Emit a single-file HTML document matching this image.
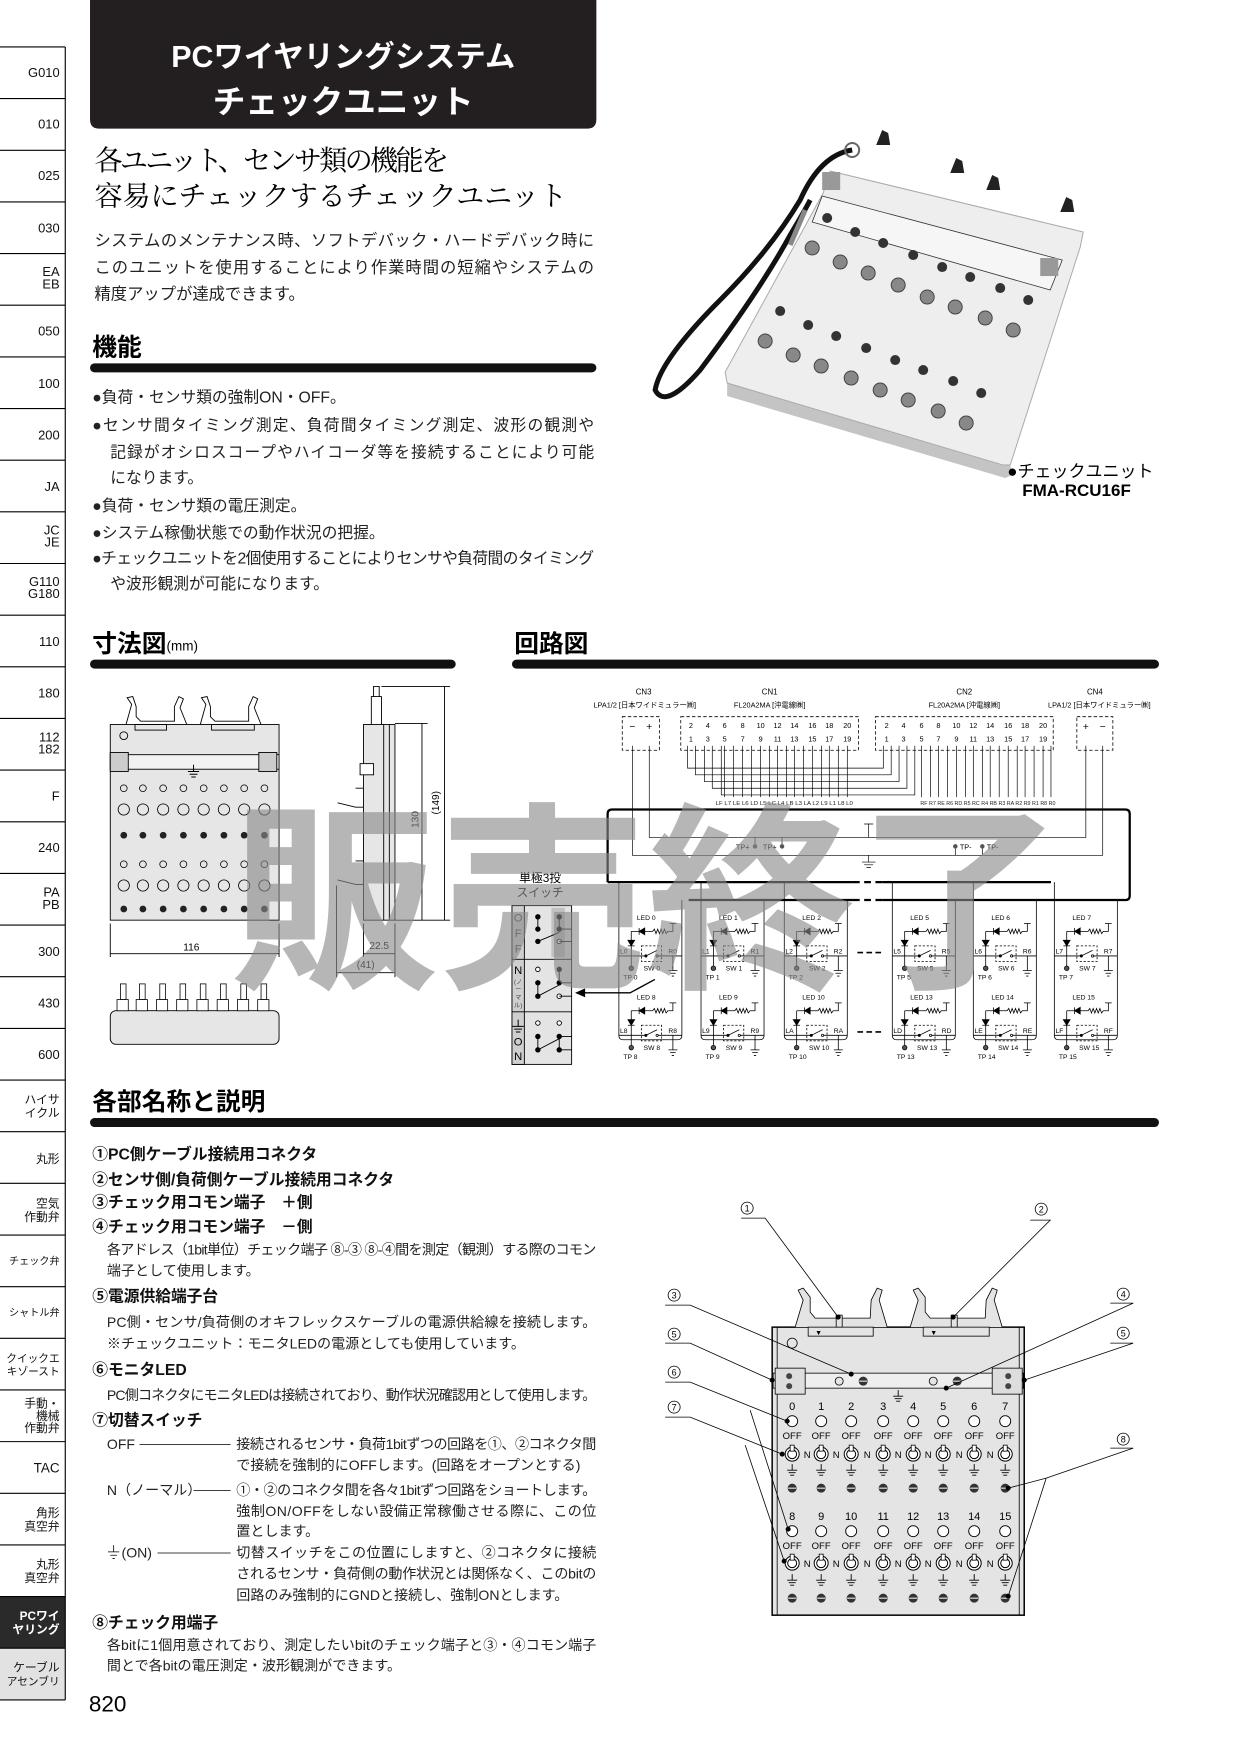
<!DOCTYPE html>
<html><head><meta charset="utf-8"><style>
html,body{margin:0;padding:0;background:#fff;}
svg{display:block;}
text{font-family:"Liberation Sans","Noto Sans CJK JP",sans-serif;}
.s{font-family:"Liberation Serif","Noto Serif CJK SC",serif;}
</style></head><body>
<svg width="1240" height="1752" viewBox="0 0 1102 1567" preserveAspectRatio="none" xmlns="http://www.w3.org/2000/svg">
<defs>
<g id="row" fill="none" stroke="#000" stroke-width="0.7">
<path d="M11 20V53M11 20H18M23 20H30l1.5-2 1.5 4 1.5-4 1.5 4 1.5-4 1.5 4 1.5-4 1.5 4 1.5-2H48V13M45 13H51M0 42H11M38 42H56M11 42H24M35 42H48V55M44 55H52M45.5 57.5H50.5M47 60H49"/>
<path d="M18 20L23 17V23Z M18 17V23" fill="#000"/>
<path d="M8 28H14L11 33Z M8 33H14" fill="#000"/>
<rect x="20" y="33" width="18" height="14" stroke-dasharray="2 1.5"/>
<path d="M24 42L34 37"/>
<circle cx="24" cy="42" r="1" fill="#000"/><circle cx="34" cy="42" r="1"/>
<circle cx="11" cy="53" r="2" fill="#555"/>
</g>
<g id="sw"><circle r="7" fill="#fff" stroke="#000" stroke-width="1"/><circle r="4.5" fill="none" stroke="#000" stroke-width="1"/><rect x="-2" y="-9" width="4" height="6" fill="#fff" stroke="#000" stroke-width="0.8"/></g>
<g id="scr"><circle r="4.5" fill="#333"/><path d="M-4 0H4" stroke="#fff" stroke-width="1"/></g>
<g id="gnd" stroke="#000" stroke-width="0.9"><path d="M0 -6V0M-5 0H5M-3.5 2.5H3.5M-2 5H2"/></g>
<g id="led"><circle r="5.5" fill="#fff" stroke="#000" stroke-width="0.9"/></g>
</defs>

<!-- sidebar -->
<g stroke="#000" stroke-width="1" fill="none">
<rect x="0" y="1428" width="58" height="46.2" fill="#2a2a2a" stroke="none"/>
<rect x="0" y="1474.2" width="58" height="46.2" fill="#e2e2e2" stroke="none"/>
<path d="M58 42V1520.4"/>
<path d="M0 42H58M0 88.2H58M0 134.4H58M0 180.6H58M0 226.8H58M0 273H58M0 319.2H58M0 365.4H58M0 411.6H58M0 457.8H58M0 504H58M0 550.2H58M0 596.4H58M0 642.6H58M0 688.8H58M0 735H58M0 781.2H58M0 827.4H58M0 873.6H58M0 919.8H58M0 966H58M0 1012.2H58M0 1058.4H58M0 1104.6H58M0 1150.8H58M0 1197H58M0 1243.2H58M0 1289.4H58M0 1335.6H58M0 1381.8H58M0 1428H58M0 1474.2H58M0 1520.4H58"/>
</g>
<g font-size="11.5" text-anchor="end" fill="#111">
<text x="53" y="69">G010</text><text x="53" y="115">010</text><text x="53" y="161">025</text><text x="53" y="208">030</text>
<text x="53" y="247">EA</text><text x="53" y="258">EB</text>
<text x="53" y="300">050</text><text x="53" y="347">100</text><text x="53" y="393">200</text><text x="53" y="439">JA</text>
<text x="53" y="478">JC</text><text x="53" y="489">JE</text>
<text x="53" y="524">G110</text><text x="53" y="535">G180</text>
<text x="53" y="578">110</text><text x="53" y="624">180</text>
<text x="53" y="663">112</text><text x="53" y="674">182</text>
<text x="53" y="716">F</text><text x="53" y="762">240</text>
<text x="53" y="802">PA</text><text x="53" y="813">PB</text>
<text x="53" y="855">300</text><text x="53" y="901">430</text><text x="53" y="947">600</text>
<g font-size="10.5"><text x="53" y="987">ハイサ</text><text x="53" y="999">イクル</text>
<text x="53" y="1040">丸形</text>
<text x="53" y="1080">空気</text><text x="53" y="1092">作動弁</text>
<text x="53" y="1131" font-size="9">チェック弁</text>
<text x="53" y="1177" font-size="9">シャトル弁</text>
<text x="53" y="1218" font-size="9.5">クイックエ</text><text x="53" y="1230" font-size="9.5">キゾースト</text>
<text x="53" y="1259">手動・</text><text x="53" y="1270">機械</text><text x="53" y="1281">作動弁</text>
<text x="53" y="1317" font-size="12">TAC</text>
<text x="53" y="1357">角形</text><text x="53" y="1369">真空弁</text>
<text x="53" y="1403">丸形</text><text x="53" y="1415">真空弁</text>
<text x="53" y="1449" fill="#fff" font-weight="bold">PCワイ</text><text x="53" y="1461" fill="#fff" font-weight="bold">ヤリング</text>
<text x="53" y="1495">ケーブル</text><text x="53" y="1507" font-size="9.5">アセンブリ</text></g>
</g>

<!-- title -->
<path d="M80 0H530V107Q530 115 522 115H88Q80 115 80 107Z" fill="#231f20"/>
<text x="305" y="60" fill="#fff" font-size="27" text-anchor="middle" font-weight="bold">PCワイヤリングシステム</text>
<text x="305" y="101" fill="#fff" font-size="29" text-anchor="middle" font-weight="bold">チェックユニット</text>
<text class="s" x="84" y="152" font-size="25" textLength="315">各ユニット、センサ類の機能を</text>
<text class="s" x="84" y="184" font-size="25" textLength="420">容易にチェックするチェックユニット</text>
<g font-size="14.5" fill="#222">
<text x="84" y="220" textLength="444">システムのメンテナンス時、ソフトデバック・ハードデバック時に</text>
<text x="84" y="244" textLength="444">このユニットを使用することにより作業時間の短縮やシステムの</text>
<text x="84" y="268">精度アップが達成できます。</text>
</g>
<text x="82" y="318" font-size="22" font-weight="bold">機能</text>
<rect x="80" y="325" width="450" height="8" rx="4" fill="#111"/>
<g font-size="14" fill="#222">
<text x="82" y="360">●負荷・センサ類の強制ON・OFF。</text>
<text x="82" y="385" textLength="446">●センサ間タイミング測定、負荷間タイミング測定、波形の観測や</text>
<text x="98" y="409" textLength="430">記録がオシロスコープやハイコーダ等を接続することにより可能</text>
<text x="98" y="432">になります。</text>
<text x="82" y="457">●負荷・センサ類の電圧測定。</text>
<text x="82" y="481">●システム稼働状態での動作状況の把握。</text>
<text x="82" y="504" textLength="446">●チェックユニットを2個使用することによりセンサや負荷間のタイミング</text>
<text x="98" y="527">や波形観測が可能になります。</text>
</g>
<text x="82" y="583" font-size="22" font-weight="bold">寸法図</text><text x="148" y="582" font-size="12">(mm)</text>
<rect x="80" y="590" width="325" height="8" rx="4" fill="#111"/>
<text x="457" y="583" font-size="22" font-weight="bold">回路図</text>
<rect x="455" y="590" width="575" height="8" rx="4" fill="#111"/>

<!-- photo (real coords) -->
<g transform="scale(0.8889 0.8945)">
<path d="M727 383L1003 465L1010 465L1012 475L1005 478L727 396Z" fill="#c4c4c4"/>
<path d="M830 171L1083 232L1080 247L1010 465L1003 465L727 383L725 372L823 193Z" fill="#eeeeee" stroke="#aaa" stroke-width="1"/>
<path d="M822 196L1062 260L1050 290L812 222Z" fill="#f6f6f6" stroke="#333" stroke-width="0.8"/>
<path d="M852 150Q820 155 800 200Q770 250 720 300Q660 360 655 390Q665 410 700 370Q760 290 790 235Q805 210 810 200" fill="none" stroke="#111" stroke-width="5"/>
<path d="M805 210L790 245" stroke="#888" stroke-width="5"/>
<circle cx="852" cy="150" r="7" fill="none" stroke="#666" stroke-width="2"/>
<g fill="#222"><path d="M876 145l6-15 6 3 2 12z"/><path d="M950 173l6-15 6 3 2 12z"/><path d="M986 190l6-15 6 3 2 12z"/><path d="M1060 212l6-15 6 3 2 12z"/></g>
<rect x="822" y="172" width="18" height="18" fill="#999"/><rect x="1040" y="258" width="18" height="18" fill="#999"/>
<g fill="#333">
<circle cx="827" cy="218" r="5"/><circle cx="855" cy="232" r="5"/><circle cx="883" cy="243" r="5"/><circle cx="913" cy="255" r="5"/><circle cx="942" cy="267" r="5"/><circle cx="970" cy="277" r="5"/><circle cx="1000" cy="288" r="5"/><circle cx="1028" cy="300" r="5"/>
<circle cx="780" cy="311" r="5"/><circle cx="808" cy="325" r="5"/><circle cx="836" cy="336" r="5"/><circle cx="866" cy="348" r="5"/><circle cx="895" cy="360" r="5"/><circle cx="923" cy="370" r="5"/><circle cx="953" cy="381" r="5"/><circle cx="981" cy="393" r="5"/>
</g>
<g fill="#888" stroke="#444" stroke-width="1">
<circle cx="812" cy="248" r="7"/><circle cx="840" cy="262" r="7"/><circle cx="868" cy="273" r="7"/><circle cx="898" cy="285" r="7"/><circle cx="927" cy="297" r="7"/><circle cx="955" cy="307" r="7"/><circle cx="985" cy="318" r="7"/><circle cx="1013" cy="330" r="7"/>
<circle cx="765" cy="341" r="7"/><circle cx="793" cy="355" r="7"/><circle cx="821" cy="366" r="7"/><circle cx="851" cy="378" r="7"/><circle cx="880" cy="390" r="7"/><circle cx="908" cy="400" r="7"/><circle cx="938" cy="411" r="7"/><circle cx="966" cy="423" r="7"/>
</g>
<text x="1007" y="477" font-size="17">●チェックユニット</text>
<text x="1022" y="496" font-size="17" font-weight="bold">FMA-RCU16F</text>
</g>

<!-- dimension drawing -->
<g fill="none" stroke="#000" stroke-width="0.8">
<rect x="98" y="648" width="150" height="175" fill="#e6e6e6"/>
<path d="M112 648L117 630L113 624L118 623L121 632L121 641L125 645L155 645L155 632L159 623L163 625L160 633L166 648"/>
<path d="M178 648L183 630L179 624L184 623L187 632L187 641L191 645L221 645L221 632L225 623L229 625L226 633L232 648"/>
<rect x="120" y="648" width="28" height="5"/><rect x="188" y="648" width="38" height="5"/>
<circle cx="110" cy="658" r="3.5"/>
<rect x="98" y="675" width="150" height="13" fill="#f2f2f2"/>
<rect x="98" y="673" width="16" height="17" fill="#ccc"/><rect x="230" y="673" width="16" height="17" fill="#ccc"/>
<rect x="98" y="904" width="150" height="30" rx="5" fill="#e6e6e6"/>
<rect x="323" y="648" width="28" height="175" fill="#e6e6e6"/>
<path d="M341 648V823M346 648V823M330 648V623H339V648M332 623V614H337V623"/>
<rect x="320" y="683" width="12" height="10" fill="#fff"/>
<path d="M300 718L316 722H323M300 787L316 791H323M316 705H323M316 770H323"/>
<path d="M351 647H380M351 823H400M339 614H400M375 647V823M395 614V823"/>
<path d="M98 826V856M248 826V856M98 853H248M323 826V856M351 826V874M323 853H351M299 792V874M299 870H351"/>
</g>
<g font-size="9" text-anchor="middle">
<text x="170" y="850">116</text><text x="337" y="849">22.5</text><text x="325" y="866">(41)</text>
<text transform="translate(372 733) rotate(-90)">130</text><text transform="translate(390 718) rotate(-90)">(149)</text>
</g>
<g>
<use href="#gnd" x="172" y="690"/>
<g fill="none" stroke="#000" stroke-width="0.7">
<circle cx="110" cy="705" r="3"/><circle cx="127" cy="705" r="3"/><circle cx="145" cy="705" r="3"/><circle cx="163" cy="705" r="3"/><circle cx="181" cy="705" r="3"/><circle cx="199" cy="705" r="3"/><circle cx="217" cy="705" r="3"/><circle cx="235" cy="705" r="3"/>
<circle cx="110" cy="773" r="3"/><circle cx="127" cy="773" r="3"/><circle cx="145" cy="773" r="3"/><circle cx="163" cy="773" r="3"/><circle cx="181" cy="773" r="3"/><circle cx="199" cy="773" r="3"/><circle cx="217" cy="773" r="3"/><circle cx="235" cy="773" r="3"/>
<circle cx="110" cy="724" r="5"/><circle cx="127" cy="724" r="5"/><circle cx="145" cy="724" r="5"/><circle cx="163" cy="724" r="5"/><circle cx="181" cy="724" r="5"/><circle cx="199" cy="724" r="5"/><circle cx="217" cy="724" r="5"/><circle cx="235" cy="724" r="5"/>
<circle cx="110" cy="792" r="5"/><circle cx="127" cy="792" r="5"/><circle cx="145" cy="792" r="5"/><circle cx="163" cy="792" r="5"/><circle cx="181" cy="792" r="5"/><circle cx="199" cy="792" r="5"/><circle cx="217" cy="792" r="5"/><circle cx="235" cy="792" r="5"/>
</g>
<g fill="#222"><circle cx="110" cy="747" r="3"/><circle cx="127" cy="747" r="3"/><circle cx="145" cy="747" r="3"/><circle cx="163" cy="747" r="3"/><circle cx="181" cy="747" r="3"/><circle cx="199" cy="747" r="3"/><circle cx="217" cy="747" r="3"/><circle cx="235" cy="747" r="3"/>
<circle cx="110" cy="813" r="3"/><circle cx="127" cy="813" r="3"/><circle cx="145" cy="813" r="3"/><circle cx="163" cy="813" r="3"/><circle cx="181" cy="813" r="3"/><circle cx="199" cy="813" r="3"/><circle cx="217" cy="813" r="3"/><circle cx="235" cy="813" r="3"/></g>
<g fill="#fff" stroke="#000" stroke-width="0.7">
<rect x="107" y="880" width="5" height="14"/><rect x="124" y="880" width="5" height="14"/><rect x="142" y="880" width="5" height="14"/><rect x="160" y="880" width="5" height="14"/><rect x="178" y="880" width="5" height="14"/><rect x="196" y="880" width="5" height="14"/><rect x="214" y="880" width="5" height="14"/><rect x="232" y="880" width="5" height="14"/>
<rect x="104" y="894" width="10" height="10"/><rect x="121" y="894" width="10" height="10"/><rect x="139" y="894" width="10" height="10"/><rect x="157" y="894" width="10" height="10"/><rect x="175" y="894" width="10" height="10"/><rect x="193" y="894" width="10" height="10"/><rect x="211" y="894" width="10" height="10"/><rect x="229" y="894" width="10" height="10"/>
</g>
</g>

<!-- circuit -->
<g font-size="7" text-anchor="middle">
<text x="572" y="621">CN3</text><text x="573" y="633" font-size="6.5">LPA1/2 [日本ワイドミュラー㈱]</text>
<text x="684" y="621">CN1</text><text x="684" y="633" font-size="6.5">FL20A2MA [沖電線㈱]</text>
<text x="857" y="621">CN2</text><text x="857" y="633" font-size="6.5">FL20A2MA [沖電線㈱]</text>
<text x="973" y="621">CN4</text><text x="977" y="633" font-size="6.5">LPA1/2 [日本ワイドミュラー㈱]</text>
</g>
<g fill="none" stroke="#000" stroke-width="0.7" stroke-dasharray="3 2">
<rect x="553" y="641" width="33" height="30"/><rect x="605" y="641" width="158" height="30"/><rect x="778" y="641" width="158" height="30"/><rect x="957" y="641" width="32" height="30"/>
</g>
<g font-size="6.5" text-anchor="middle">
<text x="562" y="653" font-size="9">−</text><text x="577" y="653" font-size="9">+</text><text x="965" y="653" font-size="9">+</text><text x="980" y="653" font-size="9">−</text>
<text x="614" y="651">2</text><text x="629" y="651">4</text><text x="644" y="651">6</text><text x="660" y="651">8</text><text x="676" y="651">10</text><text x="691" y="651">12</text><text x="706" y="651">14</text><text x="722" y="651">16</text><text x="737" y="651">18</text><text x="753" y="651">20</text>
<text x="614" y="663">1</text><text x="629" y="663">3</text><text x="644" y="663">5</text><text x="660" y="663">7</text><text x="676" y="663">9</text><text x="691" y="663">11</text><text x="706" y="663">13</text><text x="722" y="663">15</text><text x="737" y="663">17</text><text x="753" y="663">19</text>
<text x="788" y="651">2</text><text x="803" y="651">4</text><text x="819" y="651">6</text><text x="834" y="651">8</text><text x="850" y="651">10</text><text x="865" y="651">12</text><text x="880" y="651">14</text><text x="896" y="651">16</text><text x="911" y="651">18</text><text x="927" y="651">20</text>
<text x="788" y="663">1</text><text x="803" y="663">3</text><text x="819" y="663">5</text><text x="834" y="663">7</text><text x="850" y="663">9</text><text x="865" y="663">11</text><text x="880" y="663">13</text><text x="896" y="663">15</text><text x="911" y="663">17</text><text x="927" y="663">19</text>
</g>
<g fill="none" stroke="#000" stroke-width="0.6">
<path d="M611 667V687H785V667M618 667V693H792V667M626 667V699H799V667M633 667V705H806V667M641 667V711H813V667"/>
<path d="M644 667V713M652 667V713M660 667V713M668 667V713M676 667V713M684 667V713M691 667V713M699 667V713M706 667V713M714 667V713M722 667V713M730 667V713M737 667V713M745 667V713M753 667V713"/>
<path d="M819 667V713M827 667V713M834 667V713M842 667V713M850 667V713M858 667V713M865 667V713M873 667V713M880 667V713M888 667V713M896 667V713M904 667V713M911 667V713M919 667V713M927 667V713M934 667V713"/>
<path d="M562 667V765H980V667M577 667V749H965V667"/>
<path d="M671 749V755M695 749V755M849 765V759M873 765V759M772 737V749M768 737H776M772 765V771M766 771H778M768 773.5H776M770 776H774"/>
</g>
<g font-size="5" text-anchor="middle" fill="#222">
<text x="697" y="720" textLength="122" lengthAdjust="spacingAndGlyphs">LF L7 LE L6 LD L5 LC L4 LB L3 LA L2 L9 L1 L8 L0</text>
<text x="878" y="720" textLength="120" lengthAdjust="spacingAndGlyphs">RF R7 RE R6 RD R5 RC R4 RB R3 RA R2 R9 R1 R8 R0</text>
</g>
<g font-size="6.5"><text x="654" y="760">TP+</text><text x="678" y="760">TP+</text><text x="853" y="760">TP-</text><text x="877" y="760">TP-</text></g>
<g fill="#555"><circle cx="671" cy="757" r="2"/><circle cx="695" cy="757" r="2"/><circle cx="849" cy="757" r="2"/><circle cx="873" cy="757" r="2"/></g>
<g fill="none" stroke="#000" stroke-width="2">
<path d="M540 789V728Q540 724 544 724H1000Q1004 724 1004 728V801Q1004 805 1000 805H938"/>
<path d="M540 789H758M784 789H934"/>
<path d="M612 805H758M784 805H938"/>
<path d="M758 789H784M758 805H784" stroke-dasharray="6 4"/>
</g>
<g fill="none" stroke="#000" stroke-width="0.7">
<path d="M550 789V926Q550 930 554 930H602Q606 930 606 926V805"/>
<path d="M623 789V926Q623 930 627 930H675Q679 930 679 926V805"/>
<path d="M697 789V926Q697 930 701 930H749Q753 930 753 926V805"/>
<path d="M793 789V926Q793 930 797 930H845Q849 930 849 926V805"/>
<path d="M865 789V926Q865 930 869 930H917Q921 930 921 926V805"/>
<path d="M937 789V926Q937 930 941 930H989Q993 930 993 926V805"/>
<path d="M762 852H783M762 923H783" stroke-width="1.5" stroke-dasharray="5 3"/>
</g>
<use href="#row" x="550" y="813"/><use href="#row" x="623" y="813"/><use href="#row" x="697" y="813"/><use href="#row" x="793" y="813"/><use href="#row" x="865" y="813"/><use href="#row" x="937" y="813"/>
<use href="#row" x="550" y="884"/><use href="#row" x="623" y="884"/><use href="#row" x="697" y="884"/><use href="#row" x="793" y="884"/><use href="#row" x="865" y="884"/><use href="#row" x="937" y="884"/>
<g font-size="6">
<text x="566" y="823">LED 0</text><text x="639" y="823">LED 1</text><text x="713" y="823">LED 2</text><text x="809" y="823">LED 5</text><text x="881" y="823">LED 6</text><text x="953" y="823">LED 7</text>
<text x="566" y="894">LED 8</text><text x="639" y="894">LED 9</text><text x="713" y="894">LED 10</text><text x="809" y="894">LED 13</text><text x="881" y="894">LED 14</text><text x="953" y="894">LED 15</text>
<text x="551" y="853">L0</text><text x="624" y="853">L1</text><text x="698" y="853">L2</text><text x="794" y="853">L5</text><text x="866" y="853">L6</text><text x="938" y="853">L7</text>
<text x="551" y="924">L8</text><text x="624" y="924">L9</text><text x="698" y="924">LA</text><text x="794" y="924">LD</text><text x="866" y="924">LE</text><text x="938" y="924">LF</text>
<text x="594" y="853">R0</text><text x="667" y="853">R1</text><text x="741" y="853">R2</text><text x="837" y="853">R5</text><text x="909" y="853">R6</text><text x="981" y="853">R7</text>
<text x="594" y="924">R8</text><text x="667" y="924">R9</text><text x="741" y="924">RA</text><text x="837" y="924">RD</text><text x="909" y="924">RE</text><text x="981" y="924">RF</text>
<text x="572" y="868">SW 0</text><text x="645" y="868">SW 1</text><text x="719" y="868">SW 2</text><text x="815" y="868">SW 5</text><text x="887" y="868">SW 6</text><text x="959" y="868">SW 7</text>
<text x="572" y="939">SW 8</text><text x="645" y="939">SW 9</text><text x="719" y="939">SW 10</text><text x="815" y="939">SW 13</text><text x="887" y="939">SW 14</text><text x="959" y="939">SW 15</text>
<text x="554" y="876">TP 0</text><text x="627" y="876">TP 1</text><text x="701" y="876">TP 2</text><text x="797" y="876">TP 5</text><text x="869" y="876">TP 6</text><text x="941" y="876">TP 7</text>
<text x="554" y="947">TP 8</text><text x="627" y="947">TP 9</text><text x="701" y="947">TP 10</text><text x="797" y="947">TP 13</text><text x="869" y="947">TP 14</text><text x="941" y="947">TP 15</text>
</g>
<!-- switch legend -->
<text x="480" y="789" font-size="10.5" text-anchor="middle">単極3投</text>
<text x="480" y="802" font-size="10.5" text-anchor="middle">スイッチ</text>
<rect x="455" y="810" width="53" height="142" fill="#e4e4e4" stroke="#000" stroke-width="0.8"/>
<rect x="455" y="810" width="11" height="142" fill="#cfcfcf" stroke="#000" stroke-width="0.8"/>
<rect x="490" y="812" width="12" height="44" fill="#aaa" opacity="0.6"/>
<path d="M455 858H508M455 905H508" stroke="#000" stroke-width="0.8"/>
<g font-size="10" text-anchor="middle" fill="#444"><text x="460.5" y="824">O</text><text x="460.5" y="838">F</text><text x="460.5" y="852">F</text>
<text x="460.5" y="871" fill="#000">N</text><text x="460.5" y="880" font-size="5.5">(ノ</text><text x="460.5" y="887" font-size="5.5">ー</text><text x="460.5" y="894" font-size="5.5">マ</text><text x="460.5" y="901" font-size="5.5">ル)</text>
<text x="460.5" y="935" fill="#000">O</text><text x="460.5" y="948" fill="#000">N</text></g>
<use href="#gnd" x="460.5" y="918"/>
<g stroke="#000" stroke-width="0.8" fill="#000">
<circle cx="478" cy="820" r="2"/><circle cx="478" cy="831" r="2"/><circle cx="478" cy="842" r="2"/><circle cx="497" cy="820" r="2"/><circle cx="497" cy="831" r="2"/><circle cx="497" cy="842" r="2" fill="#fff"/>
<path d="M478 820V831M497 820V831M478 842L497 834M497 831H508M497 842H508" fill="none"/>
<circle cx="478" cy="867" r="2" fill="#fff"/><circle cx="478" cy="879" r="2"/><circle cx="478" cy="891" r="2"/><circle cx="497" cy="867" r="2"/><circle cx="497" cy="879" r="2"/><circle cx="497" cy="891" r="2" fill="#fff"/>
<path d="M478 879V891M497 867V879M478 891L497 881M497 879H508M497 891H508" fill="none"/>
<circle cx="478" cy="915" r="2" fill="#fff"/><circle cx="497" cy="915" r="2" fill="#fff"/><circle cx="478" cy="927" r="2"/><circle cx="478" cy="939" r="2"/><circle cx="497" cy="927" r="2"/><circle cx="497" cy="939" r="2"/>
<path d="M478 927V939M497 927V939M478 939L497 929M497 927H508M497 939H508" fill="none"/>
</g>
<path d="M519 888H560L582 876" fill="none" stroke="#000" stroke-width="1.2"/>
<path d="M511 888L520 884V892Z" fill="#000"/>

<!-- parts section -->
<text x="82" y="993" font-size="22" font-weight="bold">各部名称と説明</text>
<rect x="80" y="1000" width="950" height="8" rx="4" fill="#111"/>
<g font-size="14" font-weight="bold" fill="#111">
<text x="82" y="1037">①PC側ケーブル接続用コネクタ</text>
<text x="82" y="1060">②センサ側/負荷側ケーブル接続用コネクタ</text>
<text x="82" y="1080">③チェック用コモン端子　＋側</text>
<text x="82" y="1102">④チェック用コモン端子　－側</text>
<text x="82" y="1164">⑤電源供給端子台</text>
<text x="82" y="1230">⑥モニタLED</text>
<text x="82" y="1275">⑦切替スイッチ</text>
<text x="82" y="1456">⑧チェック用端子</text>
</g>
<g font-size="12.5" fill="#222">
<text x="95" y="1122" textLength="435">各アドレス（1bit単位）チェック端子 ⑧-③ ⑧-④間を測定（観測）する際のコモン</text>
<text x="95" y="1141">端子として使用します。</text>
<text x="95" y="1187" textLength="435">PC側・センサ/負荷側のオキフレックスケーブルの電源供給線を接続します。</text>
<text x="95" y="1206">※チェックユニット：モニタLEDの電源としても使用しています。</text>
<text x="95" y="1252" textLength="435">PC側コネクタにモニタLEDは接続されており、動作状況確認用として使用します。</text>
<text x="95" y="1296">OFF</text>
<text x="210" y="1296" textLength="320">接続されるセンサ・負荷1bitずつの回路を①、②コネクタ間</text>
<text x="210" y="1315">で接続を強制的にOFFします。(回路をオープンとする)</text>
<text x="95" y="1337">N（ノーマル）</text>
<text x="210" y="1337" textLength="320">①・②のコネクタ間を各々1bitずつ回路をショートします。</text>
<text x="210" y="1356" textLength="320">強制ON/OFFをしない設備正常稼働させる際に、この位</text>
<text x="210" y="1374">置とします。</text>
<text x="108" y="1393">(ON)</text>
<text x="210" y="1393" textLength="320">切替スイッチをこの位置にしますと、②コネクタに接続</text>
<text x="210" y="1412" textLength="320">されるセンサ・負荷側の動作状況とは関係なく、このbitの</text>
<text x="210" y="1431">回路のみ強制的にGNDと接続し、強制ONとします。</text>
<text x="95" y="1476" textLength="435">各bitに1個用意されており、測定したいbitのチェック端子と③・④コモン端子</text>
<text x="95" y="1494">間とで各bitの電圧測定・波形観測ができます。</text>
</g>
<g stroke="#000" stroke-width="0.7"><path d="M124 1292H205M172 1333H205M140 1389H205M101 1382V1388M96 1388H106M98 1391H104M100 1394H102"/></g>
<text x="79" y="1531" font-size="20">820</text>

<!-- bottom-right diagram (real coords) -->
<g transform="scale(0.8889 0.8945)">
<rect x="772" y="1327" width="252" height="288" fill="#e4e4e4" stroke="#000" stroke-width="1.5"/>
<path d="M777 1327V1615M1019 1327V1615" stroke="#000" stroke-width="0.8"/>
<g fill="#e4e4e4" stroke="#000" stroke-width="0.8">
<path d="M795 1327L803 1300L798 1290L803 1288L810 1297L810 1312L815 1318L870 1318L871 1300L877 1288L882 1290L879 1300L887 1327"/>
<path d="M910 1327L918 1300L913 1290L918 1288L925 1297L925 1312L930 1318L985 1318L986 1300L992 1288L997 1290L994 1300L1002 1327"/>
<rect x="808" y="1327" width="65" height="9"/><rect x="923" y="1327" width="66" height="9"/>
<rect x="836" y="1315" width="6" height="12"/><rect x="951" y="1315" width="6" height="12"/>
<circle cx="792" cy="1343" r="5"/>
<rect x="773" y="1373" width="250" height="15" fill="#eee"/>
<rect x="775" y="1368" width="30" height="26" fill="#ddd"/><rect x="992" y="1368" width="30" height="26" fill="#ddd"/>
<circle cx="839" cy="1381" r="4"/><circle cx="933" cy="1381" r="4"/>
</g>
<g fill="#444"><circle cx="789" cy="1376" r="3"/><circle cx="789" cy="1386" r="3"/><circle cx="1008" cy="1376" r="3"/><circle cx="1008" cy="1386" r="3"/></g>
<use href="#scr" x="863" y="1381"/><use href="#scr" x="957" y="1381"/>
<use href="#gnd" x="898" y="1396"/>
<text x="815" y="1335" font-size="7">▼</text><text x="930" y="1335" font-size="7">▼</text>
<g font-size="11" text-anchor="middle">
<text x="792" y="1410">0</text><text x="821" y="1410">1</text><text x="851" y="1410">2</text><text x="883" y="1410">3</text><text x="913" y="1410">4</text><text x="943" y="1410">5</text><text x="974" y="1410">6</text><text x="1005" y="1410">7</text>
<text x="792" y="1520">8</text><text x="821" y="1520">9</text><text x="851" y="1520">10</text><text x="883" y="1520">11</text><text x="913" y="1520">12</text><text x="943" y="1520">13</text><text x="974" y="1520">14</text><text x="1005" y="1520">15</text>
<g font-size="9.5"><text x="792" y="1439">OFF</text><text x="821" y="1439">OFF</text><text x="851" y="1439">OFF</text><text x="883" y="1439">OFF</text><text x="913" y="1439">OFF</text><text x="943" y="1439">OFF</text><text x="974" y="1439">OFF</text><text x="1005" y="1439">OFF</text>
<text x="792" y="1549">OFF</text><text x="821" y="1549">OFF</text><text x="851" y="1549">OFF</text><text x="883" y="1549">OFF</text><text x="913" y="1549">OFF</text><text x="943" y="1549">OFF</text><text x="974" y="1549">OFF</text><text x="1005" y="1549">OFF</text>
<text x="807" y="1458">N</text><text x="836" y="1458">N</text><text x="867" y="1458">N</text><text x="898" y="1458">N</text><text x="928" y="1458">N</text><text x="959" y="1458">N</text><text x="990" y="1458">N</text>
<text x="807" y="1567">N</text><text x="836" y="1567">N</text><text x="867" y="1567">N</text><text x="898" y="1567">N</text><text x="928" y="1567">N</text><text x="959" y="1567">N</text><text x="990" y="1567">N</text></g>
</g>
<use href="#led" x="792" y="1421"/><use href="#led" x="821" y="1421"/><use href="#led" x="851" y="1421"/><use href="#led" x="883" y="1421"/><use href="#led" x="913" y="1421"/><use href="#led" x="943" y="1421"/><use href="#led" x="974" y="1421"/><use href="#led" x="1005" y="1421"/>
<use href="#led" x="792" y="1531"/><use href="#led" x="821" y="1531"/><use href="#led" x="851" y="1531"/><use href="#led" x="883" y="1531"/><use href="#led" x="913" y="1531"/><use href="#led" x="943" y="1531"/><use href="#led" x="974" y="1531"/><use href="#led" x="1005" y="1531"/>
<use href="#sw" x="792" y="1454"/><use href="#sw" x="821" y="1454"/><use href="#sw" x="851" y="1454"/><use href="#sw" x="883" y="1454"/><use href="#sw" x="913" y="1454"/><use href="#sw" x="943" y="1454"/><use href="#sw" x="974" y="1454"/><use href="#sw" x="1005" y="1454"/>
<use href="#sw" x="792" y="1563"/><use href="#sw" x="821" y="1563"/><use href="#sw" x="851" y="1563"/><use href="#sw" x="883" y="1563"/><use href="#sw" x="913" y="1563"/><use href="#sw" x="943" y="1563"/><use href="#sw" x="974" y="1563"/><use href="#sw" x="1005" y="1563"/>
<use href="#gnd" x="792" y="1470"/><use href="#gnd" x="821" y="1470"/><use href="#gnd" x="851" y="1470"/><use href="#gnd" x="883" y="1470"/><use href="#gnd" x="913" y="1470"/><use href="#gnd" x="943" y="1470"/><use href="#gnd" x="974" y="1470"/><use href="#gnd" x="1005" y="1470"/>
<use href="#gnd" x="792" y="1580"/><use href="#gnd" x="821" y="1580"/><use href="#gnd" x="851" y="1580"/><use href="#gnd" x="883" y="1580"/><use href="#gnd" x="913" y="1580"/><use href="#gnd" x="943" y="1580"/><use href="#gnd" x="974" y="1580"/><use href="#gnd" x="1005" y="1580"/>
<use href="#scr" x="792" y="1488"/><use href="#scr" x="821" y="1488"/><use href="#scr" x="851" y="1488"/><use href="#scr" x="883" y="1488"/><use href="#scr" x="913" y="1488"/><use href="#scr" x="943" y="1488"/><use href="#scr" x="974" y="1488"/><use href="#scr" x="1005" y="1488"/>
<use href="#scr" x="792" y="1598"/><use href="#scr" x="821" y="1598"/><use href="#scr" x="851" y="1598"/><use href="#scr" x="883" y="1598"/><use href="#scr" x="913" y="1598"/><use href="#scr" x="943" y="1598"/><use href="#scr" x="974" y="1598"/><use href="#scr" x="1005" y="1598"/>
<g fill="none" stroke="#000" stroke-width="0.8">
<path d="M741 1218H765L838 1317M1030 1220H1050L953 1317M665 1305H690L851 1374M1110 1303H1133L946 1388M665 1343H690L772 1380M1110 1343H1133L1024 1380M665 1382H690L787 1421M750 1410L788 1529M665 1417H690L782 1454M745 1445L784 1561M1110 1448H1133L1046 1478L1008 1488M1046 1478L1008 1596"/>
<circle cx="747" cy="1208" r="6"/><circle cx="1041" cy="1209" r="6"/><circle cx="674" cy="1295" r="6"/><circle cx="1123" cy="1294" r="6"/><circle cx="674" cy="1334" r="6"/><circle cx="1123" cy="1333" r="6"/><circle cx="674" cy="1372" r="6"/><circle cx="674" cy="1407" r="6"/><circle cx="1123" cy="1439" r="6"/>
</g>
<g font-size="9" text-anchor="middle"><text x="747" y="1211.5">1</text><text x="1041" y="1212.5">2</text><text x="674" y="1298.5">3</text><text x="1123" y="1297.5">4</text><text x="674" y="1337.5">5</text><text x="1123" y="1336.5">5</text><text x="674" y="1375.5">6</text><text x="674" y="1410.5">7</text><text x="1123" y="1442.5">8</text></g>
<g fill="#000"><circle cx="838" cy="1317" r="2.5"/><circle cx="953" cy="1317" r="2.5"/><circle cx="851" cy="1374" r="2.5"/><circle cx="946" cy="1388" r="2.5"/><circle cx="772" cy="1380" r="2.5"/><circle cx="1024" cy="1380" r="2.5"/><circle cx="787" cy="1421" r="2.5"/><circle cx="788" cy="1529" r="2.5"/><circle cx="782" cy="1454" r="2.5"/><circle cx="784" cy="1561" r="2.5"/><circle cx="1008" cy="1488" r="2.5"/><circle cx="1008" cy="1596" r="2.5"/></g>
</g>

<!-- watermark -->
<text x="205" y="870" font-size="180" font-weight="bold" fill="#8a8a8a" opacity="0.62" textLength="740" lengthAdjust="spacingAndGlyphs">販売終了</text>
</svg>
</body></html>
